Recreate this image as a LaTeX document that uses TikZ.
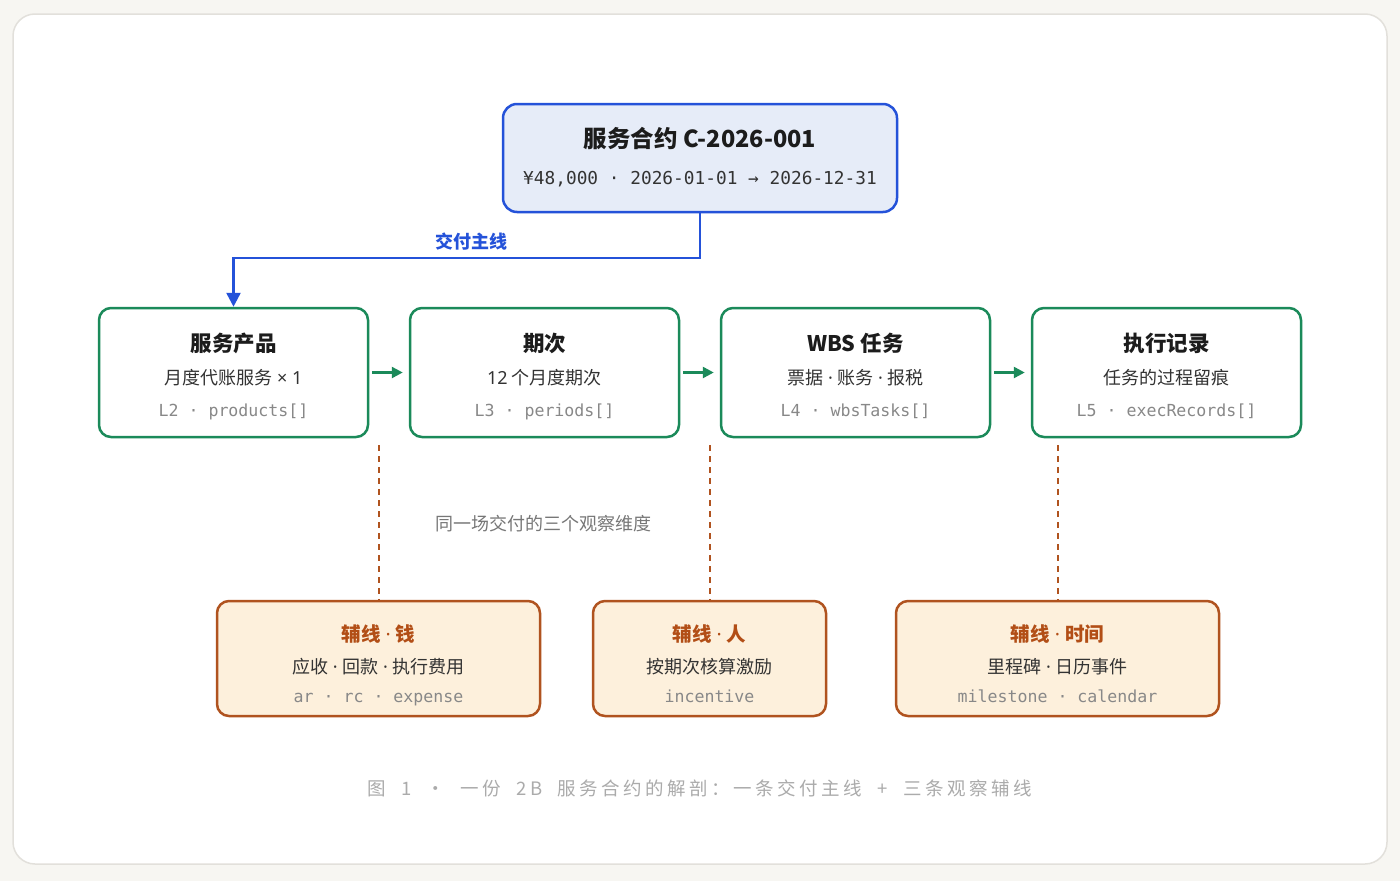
\documentclass[tikz,border=0pt]{standalone}
\usepackage{fontspec}
\setmainfont{Noto Sans CJK SC}
\setmonofont{DejaVu Sans Mono}
\newfontfamily\lat{Noto Sans}
\newfontfamily\capfont[LetterSpace=19]{Noto Sans CJK SC}
\newcommand{\md}{{\lat{} · }}
\usetikzlibrary{arrows.meta}
\definecolor{bg}{HTML}{F7F6F2}
\definecolor{cardline}{HTML}{E2E0DB}
\definecolor{blueline}{HTML}{2452D9}
\definecolor{bluefill}{HTML}{E6ECF8}
\definecolor{gline}{HTML}{1B8A5A}
\definecolor{ofill}{HTML}{FDF0DC}
\definecolor{oline}{HTML}{B0531F}
\definecolor{otext}{HTML}{B24E16}
\definecolor{darktext}{HTML}{1C1C1C}
\definecolor{midtext}{HTML}{333333}
\definecolor{monogray}{HTML}{888888}
\definecolor{midgray}{HTML}{777777}
\definecolor{capgray}{HTML}{ABABAB}
\tikzset{
  txt/.style={inner sep=0pt, anchor=base},
  topbox/.style={draw=blueline, fill=bluefill, line width=2.5pt, rounded corners=14pt, minimum width=394pt, minimum height=108pt, inner sep=0pt},
  gbox/.style={draw=gline, fill=white, line width=2.5pt, rounded corners=12pt, minimum width=269pt, minimum height=129pt, inner sep=0pt},
  obox/.style={draw=oline, fill=ofill, line width=2.5pt, rounded corners=12pt, minimum height=115pt, inner sep=0pt},
  gtitle/.style={txt, text=darktext, font=\fontsize{21.5}{21.5}\selectfont\bfseries},
  gsub/.style={txt, text=midtext, font=\fontsize{18}{18}\selectfont},
  gmono/.style={txt, text=monogray, font=\fontsize{16.6}{16.6}\selectfont\ttfamily},
  otitle/.style={txt, text=otext, font=\fontsize{19.5}{19.5}\selectfont\bfseries},
  blink/.style={draw=blueline, line width=2.5pt, -{Triangle[length=14pt, width=14pt]}},
  glink/.style={draw=gline, line width=2.5pt, -{Triangle[length=11pt, width=11pt]}, shorten <=3pt, shorten >=6pt},
  olink/.style={draw=oline, line width=2pt, dash pattern=on 6pt off 5pt},
}
\begin{document}
\begin{tikzpicture}[x=1pt, y=-1pt]
\useasboundingbox (0,0) rectangle (1400,881);
\fill[bg] (0,0) rectangle (1400,881);
\draw[cardline, fill=white, line width=1.5pt, rounded corners=22pt] (13,14) rectangle (1387,864);

% top box
\node[topbox] (top) at (700,158) {};
\node[txt, text=darktext, font=\fontsize{23.5}{23.5}\selectfont\bfseries] (toptitle) at (700,147.5) {服务合约 C-2026-001};
\node[txt, text=midtext, font=\fontsize{17.8}{17.8}\selectfont\ttfamily] (topsub) at (700,184) {¥48,000 · 2026-01-01 → 2026-12-31};

% green boxes
\node[gbox] (g1) at (233.5,372.5) {};
\node[gbox] (g2) at (544.5,372.5) {};
\node[gbox] (g3) at (855.5,372.5) {};
\node[gbox] (g4) at (1166.5,372.5) {};

\node[gtitle] (g1t) at (233.5,351.5) {服务产品};
\node[gsub]   (g1s) at (233.5,384.5) {月度代账服务{\lat{} × 1}};
\node[gmono]  (g1m) at (233.5,416) {L2 · products[]};

\node[gtitle] (g2t) at (544.5,351.5) {期次};
\node[gsub]   (g2s) at (544.5,384.5) {{\lat 12} 个月度期次};
\node[gmono]  (g2m) at (544.5,416) {L3 · periods[]};

\node[gtitle] (g3t) at (855.5,351.5) {WBS 任务};
\node[gsub]   (g3s) at (855.5,384.5) {票据\md 账务\md 报税};
\node[gmono]  (g3m) at (855.5,416) {L4 · wbsTasks[]};

\node[gtitle] (g4t) at (1166.5,351.5) {执行记录};
\node[gsub]   (g4s) at (1166.5,384.5) {任务的过程留痕};
\node[gmono]  (g4m) at (1166.5,416) {L5 · execRecords[]};

% blue main line
\coordinate (bend) at (700,258);
\draw[blink] (top.south) -- (bend) -| (g1.north);
\node[txt, text=blueline, font=\fontsize{18}{18}\selectfont\bfseries] (mainlbl) at (471,248.5) {交付主线};

% green arrows
\draw[glink] (g1.east) -- (g2.west);
\draw[glink] (g2.east) -- (g3.west);
\draw[glink] (g3.east) -- (g4.west);

% orange boxes
\node[obox, minimum width=323pt] (oa) at (378.5,658.5) {};
\node[obox, minimum width=233pt] (ob) at (709.5,658.5) {};
\node[obox, minimum width=323pt] (oc) at (1057.5,658.5) {};

\node[otitle] (oat) at (378.5,641) {辅线\md 钱};
\node[gsub]   (oas) at (378.5,673.5) {应收\md 回款\md 执行费用};
\node[gmono]  (oam) at (378.5,702) {ar · rc · expense};

\node[otitle] (obt) at (709.5,641) {辅线\md 人};
\node[gsub]   (obs) at (709.5,673.5) {按期次核算激励};
\node[gmono]  (obm) at (709.5,702) {incentive};

\node[otitle] (oct) at (1057.5,641) {辅线\md 时间};
\node[gsub]   (ocs) at (1057.5,673.5) {里程碑\md 日历事件};
\node[gmono]  (ocm) at (1057.5,702) {milestone · calendar};

% dashed observation lines
\coordinate (da) at (378.5,445);
\coordinate (db) at (709.5,445);
\coordinate (dc) at (1057.5,445);
\draw[olink] (da) -- (oa.north);
\draw[olink] (db) -- (ob.north);
\draw[olink] (dc) -- (oc.north);

\node[txt, text=midgray, font=\fontsize{18}{18}\selectfont] (midlbl) at (543,530) {同一场交付的三个观察维度};

% caption
\node[txt, text=capgray, font=\fontsize{18.5}{18.5}\capfont] (caption) at (699.5,795) {图\ \ 1\ \ ·\ \ 一份\ \ 2B\ \ 服务合约的解剖：一条交付主线\ \ +\ \ 三条观察辅线};
\end{tikzpicture}
\end{document}
